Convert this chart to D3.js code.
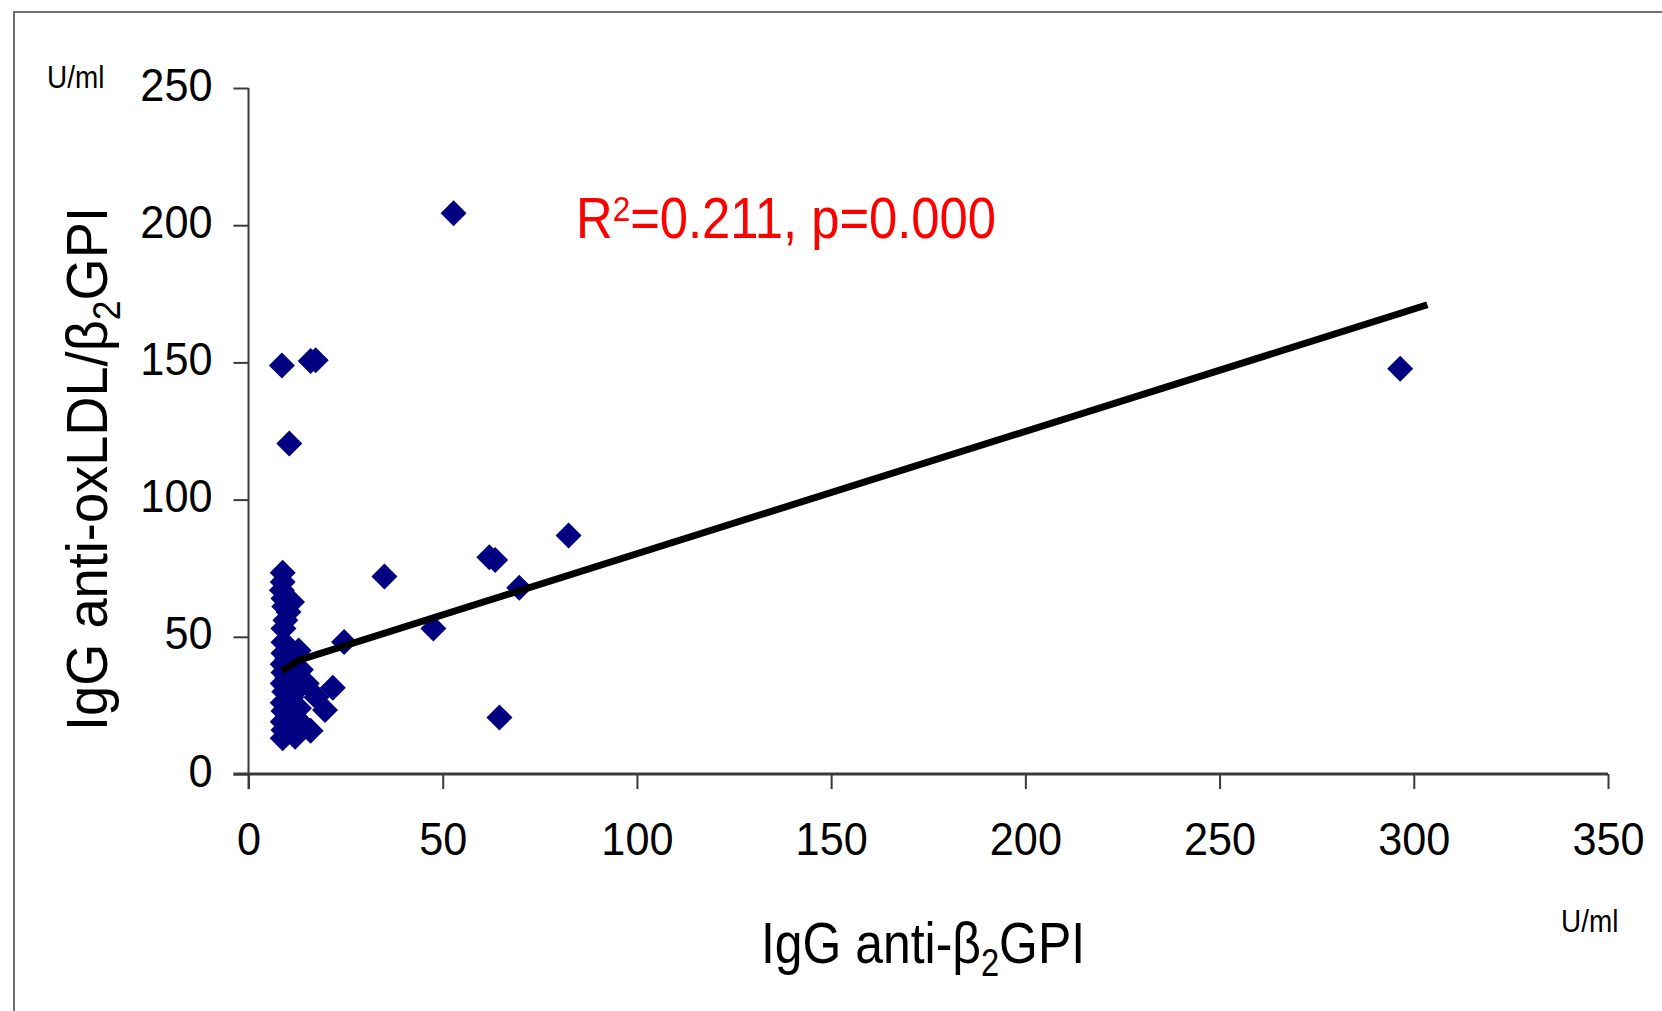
<!DOCTYPE html>
<html>
<head>
<meta charset="utf-8">
<script src="https://cdnjs.cloudflare.com/ajax/libs/d3/7.8.5/d3.min.js"></script>
<style>
  html, body { margin: 0; padding: 0; background: #fff; }
  svg text { font-family: "Liberation Sans", Arial, sans-serif; }
</style>
</head>
<body>
<div id="chart"></div>
<script>
// ── data ──────────────────────────────────────────────────────────────────
const xTicks = [0, 50, 100, 150, 200, 250, 300, 350];
const yTicks = [0, 50, 100, 150, 200, 250];

// IgG anti-β2GPI (U/ml)
const antiB2gpi = [
  52.8, 296.5, 8.6, 16.0, 17.3, 10.5, 82.4, 62.0, 63.5, 35.0,
  69.7, 47.6, 24.6, 64.6, 21.7,
  8.8, 8.8, 8.6, 9.0, 11.2, 10.3, 9.5, 9.0, 12.9, 9.0,
  8.8, 9.0, 10.0, 8.8, 9.2, 11.0, 8.8, 9.0, 10.5, 8.8,
  9.0, 8.8, 12.0, 15.0, 17.5, 19.7, 16.0, 14.0, 13.0, 12.0, 13.5,
  9.2, 10.0, 11.5, 9.0
];
// IgG anti-oxLDL/β2GPI (U/ml)
const antiOxLdl = [
  204.4, 147.7, 148.9, 150.5, 150.8, 120.4, 86.9, 79.0, 78.0, 72.0,
  67.9, 53.0, 48.1, 20.6, 31.4,
  73.3, 70.0, 67.0, 64.0, 62.7, 59.0, 56.0, 53.0, 45.0, 44.0,
  40.0, 37.0, 35.0, 33.0, 30.0, 28.0, 26.0, 23.0, 21.0, 19.0,
  16.0, 13.0, 13.6, 33.0, 28.0, 23.3, 15.8, 18.0, 24.0, 30.0, 38.0,
  61.0, 42.0, 17.0, 48.0
];

// trend line vertices as drawn
const trendX = [8.6, 13.0, 303.5];
const trendY = [37.5, 41.5, 171.0];

const statText = ["R", "2", "=0.211, p=0.000"];

// ── layout ────────────────────────────────────────────────────────────────
const W = 1662, H = 1011;
const axisColor = "#3a3a3a";
const pointColor = "#000080";

const svg = d3.select("#chart").append("svg")
  .attr("width", W)
  .attr("height", H);

const x = d3.scaleLinear().domain([0, 350]).range([248.5, 1608]);
const y = d3.scaleLinear().domain([0, 250]).range([774, 88]);

// outer frame (only left and top edges show)
svg.append("path")
  .attr("d", `M14,${H} V12 H${W}`)
  .attr("fill", "none")
  .attr("stroke", "#707070")
  .attr("stroke-width", 2);

// axes
const xAxis = d3.axisBottom(x)
  .tickValues(xTicks)
  .tickSize(15)
  .tickSizeOuter(0)
  .tickFormat(d3.format("d"));

const gx = svg.append("g")
  .attr("transform", `translate(0,${y(0)})`)
  .call(xAxis);
gx.select(".domain").remove();
gx.selectAll(".tick line").attr("stroke", axisColor).attr("stroke-width", 2);
gx.selectAll(".tick text")
  .attr("y", 0)
  .attr("dy", 0)
  .attr("transform", "translate(0,81) scale(0.92,1)")
  .attr("font-size", 47)
  .attr("fill", "#000");

const yAxis = d3.axisLeft(y)
  .tickValues(yTicks)
  .tickSize(15)
  .tickSizeOuter(0)
  .tickFormat(d3.format("d"));

const gy = svg.append("g")
  .attr("transform", `translate(${x(0)},0)`)
  .call(yAxis);
gy.select(".domain").remove();
gy.selectAll(".tick line").attr("stroke", axisColor).attr("stroke-width", 2);
gy.selectAll(".tick text")
  .attr("x", 0)
  .attr("dy", 0)
  .attr("transform", "translate(-36,12) scale(0.92,1)")
  .attr("font-size", 47)
  .attr("fill", "#000");

// axis lines
svg.append("line")
  .attr("x1", x(0) - 15).attr("x2", x(350))
  .attr("y1", y(0)).attr("y2", y(0))
  .attr("stroke", axisColor).attr("stroke-width", 3);
svg.append("line")
  .attr("x1", x(0)).attr("x2", x(0))
  .attr("y1", y(250)).attr("y2", y(0) + 15)
  .attr("stroke", axisColor).attr("stroke-width", 2);

// points
const pts = antiB2gpi.map((v, i) => ({ x: v, y: antiOxLdl[i] }));
const r = 13;
svg.append("g")
  .selectAll("path.point")
  .data(pts)
  .join("path")
  .attr("class", "point")
  .attr("d", d => {
    const cx = x(d.x), cy = y(d.y);
    return `M${cx},${cy - r} L${cx + r},${cy} L${cx},${cy + r} L${cx - r},${cy} Z`;
  })
  .attr("fill", pointColor);

// trend line
const line = d3.line()
  .x((d, i) => x(trendX[i]))
  .y((d, i) => y(trendY[i]));
svg.append("path")
  .attr("d", line(trendX))
  .attr("fill", "none")
  .attr("stroke", "#000")
  .attr("stroke-width", 7);

// ── labels ────────────────────────────────────────────────────────────────
function label(px, py, size, sx, opts = {}) {
  const rot = opts.rotate ? ` rotate(${opts.rotate})` : "";
  return svg.append("text")
    .attr("transform", `translate(${px},${py})${rot} scale(${sx},1)`)
    .attr("font-size", size)
    .attr("text-anchor", opts.anchor || "start")
    .attr("fill", opts.fill || "#000");
}

// unit labels
label(47, 88, 31, 0.9).text("U/ml");
label(1561, 932, 31, 0.9).text("U/ml");

// x title
const xt = label(761, 963, 58, 0.86);
xt.append("tspan").text("IgG anti-β");
xt.append("tspan").attr("font-size", 38).attr("dy", 13).text("2");
xt.append("tspan").attr("dy", -13).text("GPI");

// y title
const yt = label(107, 731, 58, 0.935, { rotate: -90 });
yt.append("tspan").text("IgG anti-oxLDL/β");
yt.append("tspan").attr("font-size", 38).attr("dy", 13).text("2");
yt.append("tspan").attr("dy", -13).text("GPI");

// stats
const st = label(576, 238, 58, 0.875, { fill: "#ff0000" });
st.append("tspan").text(statText[0]);
st.append("tspan").attr("font-size", 36).attr("dy", -17).text(statText[1]);
st.append("tspan").attr("dy", 17).text(statText[2]);
</script>
</body>
</html>
